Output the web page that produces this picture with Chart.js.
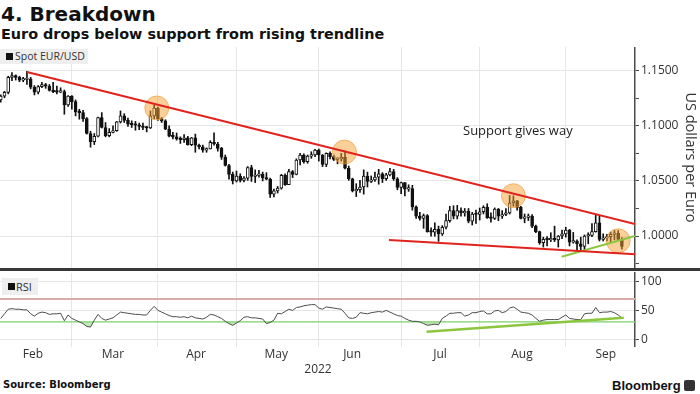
<!DOCTYPE html>
<html>
<head>
<meta charset="utf-8">
<script src="https://cdn.jsdelivr.net/npm/chart.js@4.4.1/dist/chart.umd.min.js"></script>
<style>
  body { margin: 0; width: 700px; height: 394px; position: relative; overflow: hidden; background: #fff; font-family: 'Open Sans', sans-serif; color: #222; }
  .abs { position: absolute; white-space: nowrap; }
  #title { left: 1px; top: 4px; font: bold 20px/20px 'DejaVu Sans', sans-serif; color: #111; }
  #subtitle { left: 1px; top: 27px; font: bold 14.4px/14.4px 'DejaVu Sans', sans-serif; color: #111; }
  #main-wrap { left: 0; top: 47px; width: 700px; height: 221px; }
  #rsi-wrap { left: 0; top: 272px; width: 700px; height: 91px; }
  #divider { left: 0; top: 268px; width: 700px; height: 3px; background: #383838; }
  .legend { background: #eeeeee; color: #333; }
  .legend i { position: absolute; background: #111; }
  #spot-key { left: 0; top: 49px; width: 88px; height: 15px; font-size: 10.5px; line-height: 15px; }
  #spot-key i { left: 6px; top: 4px; width: 7px; height: 7px; }
  #spot-key span { position: absolute; left: 15px; }
  #rsi-key { left: 2px; top: 278px; width: 36px; height: 17px; font-size: 11px; line-height: 17px; }
  #rsi-key i { left: 6px; top: 5px; width: 7px; height: 7px; }
  #rsi-key span { position: absolute; left: 14px; }
  #note { left: 463px; top: 122px; font-size: 13px; line-height: 16px; color: #222; }
  #year { left: 298px; width: 40px; top: 361px; text-align: center; font-size: 12px; line-height: 16px; color: #333; }
  #source { left: 3px; top: 380px; font: bold 10px/10px 'DejaVu Sans', sans-serif; color: #111; }
  #brand { left: 612px; top: 379px; font: bold 13px/14px 'Liberation Sans', sans-serif; color: #111; }
  #brand-icon { left: 684px; top: 380px; width: 11px; height: 11px; background: #333; border-radius: 2px; }
</style>
</head>
<body>
<div class="abs" id="title">4. Breakdown</div>
<div class="abs" id="subtitle">Euro drops below support from rising trendline</div>
<div class="abs" id="main-wrap"><canvas id="main-chart"></canvas></div>
<div class="abs" id="divider"></div>
<div class="abs" id="rsi-wrap"><canvas id="rsi-chart"></canvas></div>
<div class="abs legend" id="spot-key"><i></i><span>Spot EUR/USD</span></div>
<div class="abs legend" id="rsi-key"><i></i><span>RSI</span></div>
<div class="abs" id="note">Support gives way</div>
<div class="abs" id="year">2022</div>
<div class="abs" id="source">Source: Bloomberg</div>
<div class="abs" id="brand">Bloomberg</div>
<div class="abs" id="brand-icon"></div>
<script>
// daily EUR/USD candles, trading days from Feb 1 2022 (index 0) to Sep 21
var opens = [
  1.1235, 1.1270, 1.1303, 1.1440, 1.1455, 1.1440, 1.1415, 1.1420, 1.1425, 1.1350, 1.1305, 1.1355, 1.1375, 1.1360, 1.1320, 1.1310, 1.1305, 1.1310, 1.1190, 1.1270,
  1.1220, 1.1125, 1.1120, 1.1065, 1.0930, 1.0855, 1.0905, 1.1075, 1.0985, 1.0910, 1.0940, 1.0955, 1.1035, 1.1090, 1.1050, 1.1015, 1.1010, 1.1005, 1.0995, 1.0985, 1.0980, 1.1090, 1.1160,
  1.1065, 1.1045, 1.0970, 1.0905, 1.0900, 1.0880, 1.0875, 1.0890, 1.0830, 1.0890, 1.0825, 1.0810, 1.0780, 1.0790, 1.0850, 1.0835, 1.0795, 1.0715, 1.0640, 1.0560, 1.0500,
  1.0545, 1.0505, 1.0525, 1.0620, 1.0540, 1.0550, 1.0560, 1.0530, 1.0515, 1.0380, 1.0410, 1.0435, 1.0550, 1.0465, 1.0585, 1.0560, 1.0690, 1.0735, 1.0675, 1.0725, 1.0735, 1.0780,
  1.0735, 1.0650, 1.0750, 1.0720, 1.0695, 1.0700, 1.0715, 1.0615, 1.0520, 1.0410, 1.0420, 1.0445, 1.0545, 1.0495, 1.0510, 1.0535, 1.0565, 1.0520, 1.0555, 1.0585, 1.0520, 1.0440,
  1.0485, 1.0425, 1.0430, 1.0265, 1.0180, 1.0160, 1.0185, 1.0040, 1.0035, 1.0060, 1.0020, 1.0080, 1.0140, 1.0230, 1.0180, 1.0230, 1.0210, 1.0225, 1.0135, 1.0200, 1.0195,
  1.0220, 1.0260, 1.0165, 1.0160, 1.0245, 1.0180, 1.0195, 1.0210, 1.0300, 1.0320, 1.0260, 1.0160, 1.0170, 1.0180, 1.0090, 1.0040, 0.9940, 0.9970, 0.9965, 0.9975, 0.9965, 1.0000, 1.0020,
  1.0055, 0.9945, 0.9955, 0.9930, 0.9905, 1.0000, 1.0005, 1.0040, 1.0120, 0.9970, 0.9980, 0.9995, 1.0015, 1.0025, 0.9970
];
var highs = [
  1.1280, 1.1313, 1.1450, 1.1483, 1.1462, 1.1450, 1.1440, 1.1495, 1.1440, 1.1365, 1.1365, 1.1395, 1.1385, 1.1375, 1.1395, 1.1360, 1.1345, 1.1325, 1.1275, 1.1275,
  1.1235, 1.1150, 1.1140, 1.1075, 1.0950, 1.0930, 1.1080, 1.1120, 1.1030, 1.0975, 1.1000, 1.1040, 1.1135, 1.1110, 1.1070, 1.1045, 1.1040, 1.1025, 1.1025, 1.0995, 1.1135, 1.1185, 1.1170,
  1.1075, 1.1055, 1.1000, 1.0940, 1.0935, 1.0900, 1.0920, 1.0905, 1.0895, 1.0925, 1.0835, 1.0825, 1.0800, 1.0865, 1.0936, 1.0850, 1.0805, 1.0735, 1.0650, 1.0580, 1.0590,
  1.0565, 1.0540, 1.0630, 1.0642, 1.0600, 1.0595, 1.0580, 1.0575, 1.0525, 1.0425, 1.0450, 1.0560, 1.0565, 1.0605, 1.0595, 1.0700, 1.0750, 1.0745, 1.0735, 1.0765, 1.0787, 1.0790,
  1.0740, 1.0755, 1.0765, 1.0735, 1.0710, 1.0750, 1.0774, 1.0635, 1.0525, 1.0475, 1.0505, 1.0600, 1.0580, 1.0545, 1.0580, 1.0605, 1.0575, 1.0570, 1.0615, 1.0605, 1.0530, 1.0490,
  1.0485, 1.0465, 1.0460, 1.0275, 1.0215, 1.0200, 1.0195, 1.0075, 1.0120, 1.0090, 1.0095, 1.0200, 1.0270, 1.0275, 1.0278, 1.0255, 1.0250, 1.0250, 1.0215, 1.0235, 1.0254,
  1.0275, 1.0293, 1.0210, 1.0255, 1.0250, 1.0230, 1.0250, 1.0368, 1.0365, 1.0325, 1.0270, 1.0200, 1.0200, 1.0195, 1.0100, 1.0045, 0.9990, 0.9995, 1.0030, 1.0090, 1.0005, 1.0055, 1.0080,
  1.0060, 1.0033, 0.9965, 0.9990, 1.0010, 1.0030, 1.0114, 1.0198, 1.0187, 1.0020, 1.0015, 1.0035, 1.0050, 1.0050, 0.9985
];
var lows = [
  1.1215, 1.1255, 1.1290, 1.1410, 1.1415, 1.1400, 1.1400, 1.1375, 1.1335, 1.1280, 1.1290, 1.1345, 1.1340, 1.1315, 1.1300, 1.1290, 1.1300, 1.1105, 1.1175, 1.1150,
  1.1090, 1.1060, 1.1040, 1.0925, 1.0806, 1.0830, 1.0900, 1.0980, 1.0900, 1.0900, 1.0935, 1.0950, 1.1025, 1.1030, 1.0995, 1.0985, 1.0960, 1.0965, 1.0965, 1.0945, 1.0975, 1.1065, 1.1050,
  1.1030, 1.0965, 1.0900, 1.0880, 1.0870, 1.0840, 1.0850, 1.0825, 1.0820, 1.0760, 1.0790, 1.0760, 1.0760, 1.0790, 1.0825, 1.0770, 1.0695, 1.0635, 1.0515, 1.0472, 1.0490,
  1.0490, 1.0490, 1.0505, 1.0495, 1.0485, 1.0535, 1.0500, 1.0510, 1.0350, 1.0355, 1.0390, 1.0425, 1.0460, 1.0465, 1.0530, 1.0555, 1.0645, 1.0660, 1.0660, 1.0705, 1.0720, 1.0680,
  1.0630, 1.0630, 1.0700, 1.0685, 1.0655, 1.0680, 1.0610, 1.0505, 1.0400, 1.0358, 1.0395, 1.0380, 1.0445, 1.0485, 1.0495, 1.0470, 1.0485, 1.0505, 1.0545, 1.0505, 1.0420, 1.0385,
  1.0365, 1.0405, 1.0235, 1.0160, 1.0145, 1.0070, 1.0035, 0.9999, 0.9998, 0.9952, 1.0005, 1.0065, 1.0125, 1.0155, 1.0155, 1.0180, 1.0180, 1.0120, 1.0100, 1.0115, 1.0145,
  1.0200, 1.0160, 1.0125, 1.0150, 1.0140, 1.0160, 1.0185, 1.0200, 1.0270, 1.0235, 1.0155, 1.0120, 1.0140, 1.0075, 1.0030, 0.9925, 0.9900, 0.9910, 0.9950, 0.9950, 0.9900, 0.9975, 0.9990,
  0.9910, 0.9935, 0.9877, 0.9875, 0.9864, 0.9930, 0.9995, 1.0035, 0.9955, 0.9955, 0.9955, 0.9945, 0.9965, 0.9960, 0.9880
];
var closes = [
  1.1270, 1.1303, 1.1440, 1.1455, 1.1440, 1.1415, 1.1420, 1.1425, 1.1350, 1.1305, 1.1355, 1.1375, 1.1360, 1.1320, 1.1310, 1.1305, 1.1310, 1.1190, 1.1270, 1.1220,
  1.1125, 1.1120, 1.1065, 1.0930, 1.0855, 1.0905, 1.1075, 1.0985, 1.0910, 1.0940, 1.0955, 1.1035, 1.1090, 1.1050, 1.1015, 1.1010, 1.1005, 1.0995, 1.0985, 1.0980, 1.1090, 1.1160, 1.1065,
  1.1045, 1.0970, 1.0905, 1.0900, 1.0880, 1.0875, 1.0890, 1.0830, 1.0890, 1.0825, 1.0810, 1.0780, 1.0790, 1.0850, 1.0835, 1.0795, 1.0715, 1.0640, 1.0560, 1.0500, 1.0545,
  1.0505, 1.0525, 1.0620, 1.0540, 1.0550, 1.0560, 1.0530, 1.0515, 1.0380, 1.0410, 1.0435, 1.0550, 1.0465, 1.0585, 1.0560, 1.0690, 1.0735, 1.0675, 1.0725, 1.0735, 1.0780, 1.0735,
  1.0650, 1.0750, 1.0720, 1.0695, 1.0700, 1.0715, 1.0615, 1.0520, 1.0410, 1.0420, 1.0445, 1.0545, 1.0495, 1.0510, 1.0535, 1.0565, 1.0520, 1.0555, 1.0585, 1.0520, 1.0440, 1.0485,
  1.0425, 1.0430, 1.0265, 1.0180, 1.0160, 1.0185, 1.0040, 1.0035, 1.0060, 1.0020, 1.0080, 1.0140, 1.0230, 1.0180, 1.0230, 1.0210, 1.0225, 1.0135, 1.0200, 1.0195, 1.0220,
  1.0260, 1.0165, 1.0160, 1.0245, 1.0180, 1.0195, 1.0210, 1.0300, 1.0320, 1.0260, 1.0160, 1.0170, 1.0180, 1.0090, 1.0040, 0.9940, 0.9970, 0.9965, 0.9975, 0.9965, 1.0000, 1.0020, 1.0055,
  0.9945, 0.9955, 0.9930, 0.9905, 1.0000, 1.0005, 1.0040, 1.0120, 0.9970, 0.9980, 0.9995, 1.0015, 1.0025, 0.9970, 0.9905
];
var rsiValues = [
  36, 44, 52, 53, 52, 52, 51, 51, 44, 40, 45, 47, 46, 43, 44, 44, 45, 32, 42, 36,
  33, 30, 27, 22, 21, 33, 43, 36, 33, 35, 37, 42, 47, 46, 45, 44, 43, 43, 42, 42, 50, 57, 50,
  47, 44, 41, 39, 39, 38, 39, 37, 40, 37, 36, 35, 38, 43, 42, 39, 36, 31, 27, 24, 28,
  32, 38, 39, 37, 37, 36, 35, 27, 29, 33, 45, 44, 48, 52, 50, 55, 56, 58, 59, 60, 60, 54,
  52, 56, 55, 54, 53, 52, 45, 37, 36, 38, 46, 45, 44, 46, 47, 48, 47, 50, 47, 44, 41, 40,
  36, 33, 31, 31, 30, 27, 24, 25, 26, 25, 36, 40, 45, 45, 46, 46, 40, 42, 46, 46, 48,
  49, 44, 44, 49, 50, 46, 48, 54, 56, 52, 47, 46, 45, 42, 36, 31, 33, 34, 34, 34, 34, 38, 42,
  36, 35, 34, 34, 44, 45, 45, 55, 46, 47, 47, 48, 46, 42, 37
];

var monthNames = ['Feb', 'Mar', 'Apr', 'May', 'Jun', 'Jul', 'Aug', 'Sep'];
var monthLabelAt = [8.6, 30, 52.2, 73.6, 93.9, 117.4, 139.3, 161.7];
var monthBounds = [19, 42, 63, 85, 107, 128, 151];
var priceTicks = [0.975, 1.0, 1.025, 1.05, 1.075, 1.1, 1.125, 1.15];
var rsiTicks = [0, 50, 100];
var rsiBands = [70, 30];

// trendlines as [day index, value] pairs
var upperTrend = [[7, 1.1488], [169.5, 1.0109]];
var lowerTrend = [[103.75, 0.9963], [169.5, 0.9834]];
var supportTrend = [[149.9, 0.9812], [169.5, 1.0]];
var rsiTrend = [[113.8, 12.7], [166.5, 37]];

// highlighted touches
var circleIdx = [41.7, 91.85, 137, 165];
var circlePrice = [1.1162, 1.0762, 1.0366, 0.9957];

var X_MIN = -0.2;
var X_MAX = 169.5;
var RED = '#e0231c';
var LIME = '#8cc63f';
var GRID = '#e6e6e6';
var AXIS = '#4a4a4a';
var INK = '#111';

function pts(pairs) {
  return pairs.map(function (p) { return { x: p[0], y: p[1] }; });
}

function isMajor(v) {
  return Math.abs(Math.round(v * 20) - v * 20) < 1e-6;
}

function setTicks(values) {
  return function (axis) {
    axis.ticks = values.map(function (v) { return { value: v }; });
  };
}

function fixRightAxis(axis) {
  axis.width = 65;
  axis.paddingTop = 0;
  axis.paddingBottom = 0;
}

function gridAxis() {
  return {
    type: 'linear',
    min: X_MIN,
    max: X_MAX,
    offset: false,
    afterBuildTicks: setTicks(monthBounds),
    ticks: { display: false },
    grid: { color: GRID, drawTicks: false, offset: false },
    border: { display: false },
  };
}

function renderMain(canvas) {
  var bodies = [];
  var wicks = [];
  for (var i = 0; i < opens.length; i++) {
    wicks.push({ x: i, y: [lows[i], highs[i]] });
    bodies.push({ x: i, y: [opens[i], closes[i]] });
  }
  var circles = circleIdx.map(function (x, i) { return { x: x, y: circlePrice[i] }; });

  return new Chart(canvas.getContext('2d'), {
    type: 'bar',
    data: {
      datasets: [
        { type: 'line', data: pts(upperTrend), borderColor: RED, borderWidth: 2, pointRadius: 0, order: 0 },
        { type: 'line', data: pts(lowerTrend), borderColor: RED, borderWidth: 2, pointRadius: 0, order: 0 },
        { type: 'line', data: pts(supportTrend), borderColor: LIME, borderWidth: 2, pointRadius: 0, order: 0 },
        {
          type: 'line',
          data: circles,
          showLine: false,
          pointRadius: 12,
          pointBackgroundColor: 'rgba(245, 160, 50, 0.5)',
          pointBorderColor: 'rgba(238, 150, 45, 0.6)',
          pointBorderWidth: 1,
          order: 1,
        },
        {
          data: bodies,
          barThickness: 3,
          borderWidth: 1,
          borderColor: INK,
          borderSkipped: false,
          minBarLength: 1.5,
          grouped: false,
          backgroundColor: function (c) {
            var k = c.dataIndex;
            return closes[k] >= opens[k] ? '#ffffff' : INK;
          },
          order: 2,
        },
        { data: wicks, barThickness: 1, backgroundColor: INK, borderWidth: 0, grouped: false, order: 3 },
      ],
    },
    options: {
      responsive: true,
      maintainAspectRatio: false,
      animation: false,
      events: [],
      layout: { padding: 0, autoPadding: false },
      scales: {
        x: gridAxis(),
        y: {
          type: 'linear',
          position: 'right',
          min: 0.9710,
          max: 1.1715,
          afterBuildTicks: setTicks(priceTicks),
          afterFit: fixRightAxis,
          ticks: {
            padding: 2,
            color: '#333',
            font: { family: 'Open Sans', size: 12 },
            callback: function (v) { return isMajor(v) ? v.toFixed(4) : ''; },
          },
          grid: {
            color: function (c) { return c.tick && isMajor(c.tick.value) ? GRID : 'rgba(0,0,0,0)'; },
            tickColor: AXIS,
            tickLength: 4,
          },
          border: { color: AXIS, width: 1.5 },
          title: {
            display: true,
            text: 'US dollars per Euro',
            color: '#333',
            padding: { top: 1, bottom: 0 },
            font: { family: 'Open Sans', size: 14.5 },
          },
        },
      },
      plugins: {
        legend: { display: false },
        tooltip: { enabled: false },
      },
    },
  });
}

function renderRsi(canvas) {
  var line = rsiValues.map(function (v, i) { return { x: i, y: v }; });
  return new Chart(canvas.getContext('2d'), {
    type: 'line',
    data: {
      datasets: [
        { data: pts(rsiTrend), borderColor: LIME, borderWidth: 2.5, pointRadius: 0, order: 0 },
        {
          data: line,
          borderColor: '#4d4d4d',
          borderWidth: 1,
          pointRadius: 0,
          fill: { target: { value: rsiBands[1] }, above: 'rgba(0,0,0,0)', below: 'rgba(140, 215, 120, 0.55)' },
          order: 1,
        },
        { data: pts([[X_MIN, rsiBands[1]], [X_MAX, rsiBands[1]]]), borderColor: '#7cd06a', borderWidth: 1.2, pointRadius: 0, order: 2 },
        { data: pts([[X_MIN, rsiBands[0]], [X_MAX, rsiBands[0]]]), borderColor: '#d9acac', borderWidth: 2, pointRadius: 0, order: 3 },
      ],
    },
    options: {
      responsive: true,
      maintainAspectRatio: false,
      animation: false,
      events: [],
      layout: { padding: { top: 1 }, autoPadding: false },
      scales: {
        x: gridAxis(),
        months: {
          axis: 'x',
          type: 'linear',
          position: 'bottom',
          min: X_MIN,
          max: X_MAX,
          offset: false,
          afterBuildTicks: setTicks(monthLabelAt),
          ticks: {
            autoSkip: false,
            maxRotation: 0,
            padding: 1,
            color: '#333',
            font: { family: 'Open Sans', size: 12 },
            callback: function (v, i) { return monthNames[i]; },
          },
          grid: { display: false, drawTicks: false },
          border: { display: false },
        },
        y: {
          type: 'linear',
          position: 'right',
          min: -13,
          max: 115,
          afterBuildTicks: setTicks(rsiTicks),
          afterFit: fixRightAxis,
          ticks: {
            padding: 2,
            color: '#333',
            font: { family: 'Open Sans', size: 12 },
          },
          grid: { color: GRID, tickColor: AXIS, tickLength: 4 },
          border: { color: AXIS, width: 1.5 },
        },
      },
      plugins: {
        legend: { display: false },
        tooltip: { enabled: false },
      },
    },
  });
}

renderMain(document.getElementById('main-chart'));
renderRsi(document.getElementById('rsi-chart'));
</script>
</body>
</html>
